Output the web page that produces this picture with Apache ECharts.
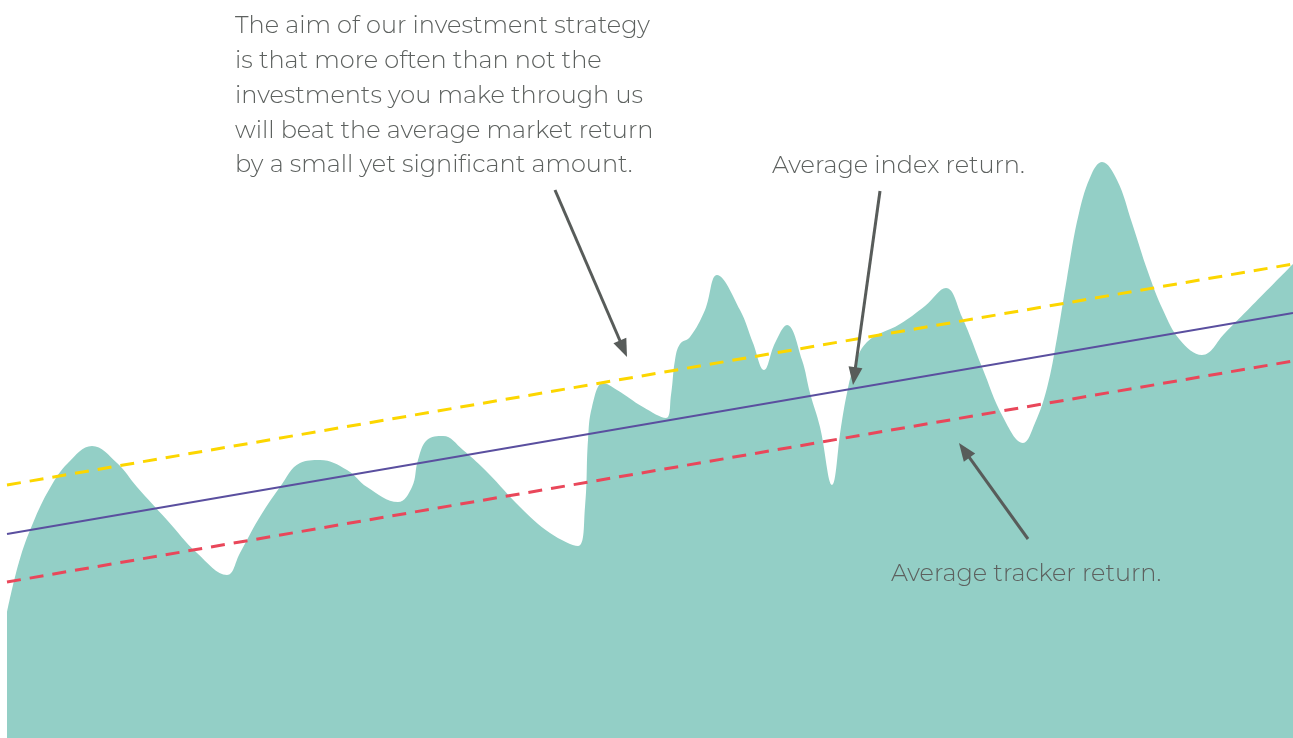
<!DOCTYPE html>
<html>
<head>
<meta charset="utf-8">
<script src="https://cdn.jsdelivr.net/npm/echarts@6/dist/echarts.min.js"></script>
<style>
  html, body { margin: 0; padding: 0; background: #fff; }
  #chart { width: 1293px; height: 738px; }
</style>
</head>
<body>
<div id="chart"></div>
<script>
// fund performance (x = time, y = return level)
var fundX = [0, 12, 26, 43, 61, 85, 110, 130, 160, 190, 220, 233, 251, 273, 293, 313, 340, 360, 391, 405, 411, 420, 436, 456, 481, 513, 543, 571, 578, 581, 585, 596, 610, 636, 659, 664, 668, 673, 683, 698, 710, 733, 746, 757, 768, 780, 795, 803, 813, 825, 834, 840, 846, 860, 893, 918, 939, 955, 975, 996, 1016, 1028, 1040, 1050, 1060, 1072, 1085, 1095, 1110, 1125, 1141, 1156, 1173, 1195, 1218, 1286]
var fundY = [126, 176, 215, 250, 275, 292, 275, 251, 218, 185, 163, 185, 218, 251, 275, 278, 268, 251, 236, 251, 278, 298, 302, 288, 265, 231, 205, 192, 231, 298, 331, 355, 348, 331, 320, 343, 378, 394, 401, 428, 463, 428, 395, 368, 395, 413, 378, 345, 311, 253, 311, 345, 368, 396, 414, 432, 450, 421, 371, 321, 295, 315, 350, 400, 460, 525, 565, 576, 558, 515, 466, 428, 398, 383, 405, 474]

// trend lines: start and end value
var trendX = [0, 1286]
var strategyLine = [253, 474]
var indexLine = [204, 425]
var trackerLine = [156, 377]

// annotation arrows [tailX, tailY, tipX, tipY]
var arrows = [
  [548, 548, 620, 381],
  [873, 547, 846, 353],
  [1021, 199, 952, 295]
]
var headLen = 18

var textColor = '#5d615f'
var fontFam = 'Montserrat, "DejaVu Sans", sans-serif'
var textFont = '300 24px ' + fontFam

function pairs(xs, ys) {
  var out = []
  for (var i = 0; i < xs.length; i++) out.push([xs[i], ys[i]])
  return out
}

// triangle symbol is centred on the end point, so pull the end back by half the head
function arrowLine(a) {
  var dx = a[2] - a[0], dy = a[3] - a[1]
  var len = Math.sqrt(dx * dx + dy * dy)
  var k = (headLen / 2) / len
  return [
    { coord: [a[0], a[1]] },
    { coord: [a[2] - dx * k, a[3] - dy * k] }
  ]
}

var myChart = echarts.init(document.getElementById('chart'))

var option = {
  backgroundColor: '#ffffff',
  animation: false,
  grid: { left: 7, right: 0, top: 0, bottom: 0 },
  xAxis: { type: 'value', min: 0, max: 1286, show: false },
  yAxis: { type: 'value', min: 0, max: 738, show: false },
  graphic: [
    {
      type: 'text', left: 235, top: 9, z: 100,
      style: {
        text: 'The aim of our investment strategy\nis that more often than not the\ninvestments you make through us\nwill beat the average market return\nby a small yet significant amount.',
        font: textFont, lineHeight: 34.7, fill: textColor
      }
    },
    {
      type: 'text', left: 772, top: 148, z: 100,
      style: { text: 'Average index return.', font: textFont, lineHeight: 35, fill: textColor }
    },
    {
      type: 'text', left: 891, top: 556, z: 100,
      style: { text: 'Average tracker return.', font: textFont, lineHeight: 35, fill: textColor }
    }
  ],
  series: [
    {
      name: 'fund',
      type: 'line',
      data: pairs(fundX, fundY),
      smooth: 0.4,
      showSymbol: false,
      lineStyle: { width: 0 },
      areaStyle: { color: '#93cfc6', opacity: 1 },
      z: 1
    },
    {
      name: 'strategy',
      type: 'line',
      data: pairs(trendX, strategyLine),
      showSymbol: false,
      lineStyle: { color: '#fcd600', width: 3, type: [14, 9] },
      z: 3
    },
    {
      name: 'index',
      type: 'line',
      data: pairs(trendX, indexLine),
      showSymbol: false,
      lineStyle: { color: '#5a4f9f', width: 2 },
      z: 3
    },
    {
      name: 'tracker',
      type: 'line',
      data: pairs(trendX, trackerLine),
      showSymbol: false,
      lineStyle: { color: '#e9475a', width: 3, type: [14, 9] },
      z: 3,
      markLine: {
        silent: true,
        symbol: ['none', 'triangle'],
        symbolSize: [14, headLen],
        label: { show: false },
        lineStyle: { color: '#585c5a', width: 3, type: 'solid' },
        itemStyle: { color: '#585c5a' },
        data: arrows.map(arrowLine)
      }
    }
  ]
}
myChart.setOption(option)
</script>
</body>
</html>
